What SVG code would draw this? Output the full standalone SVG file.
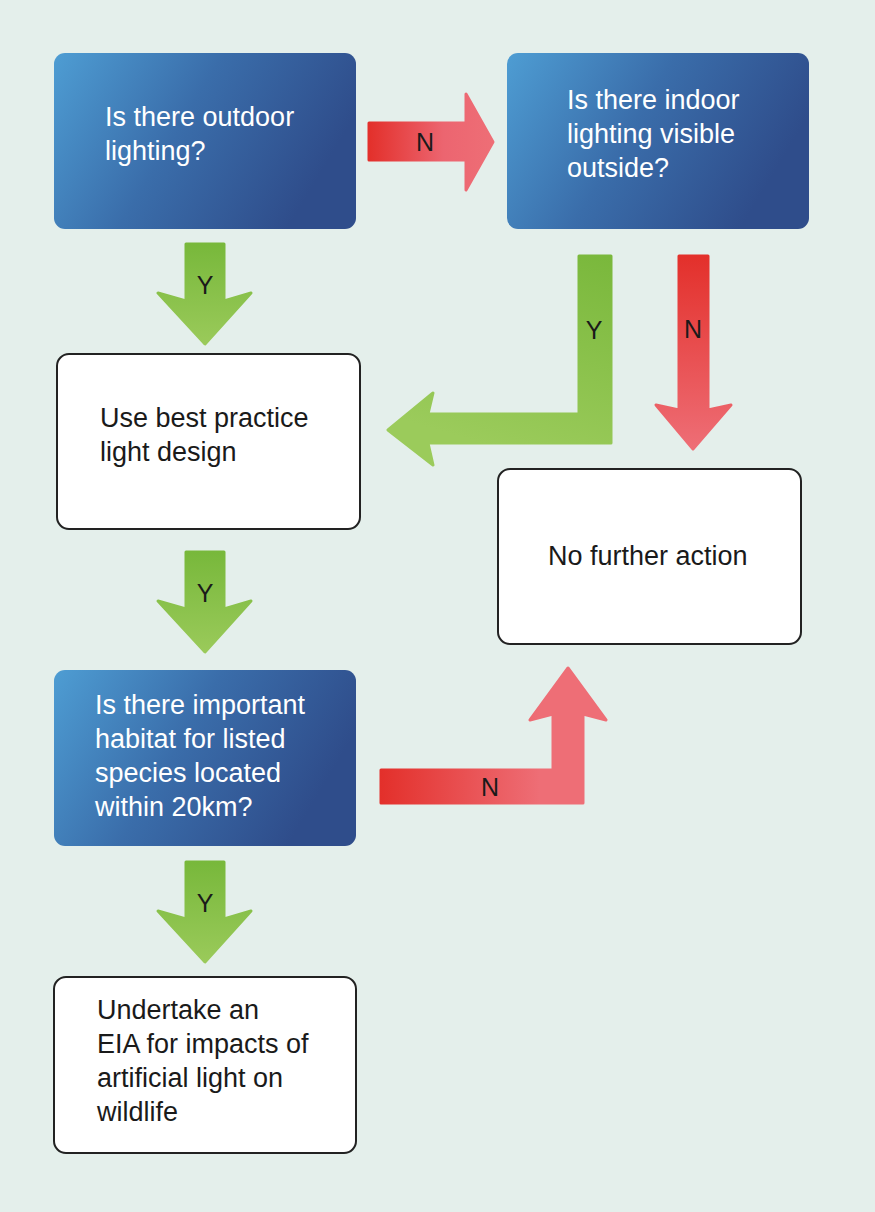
<svg xmlns="http://www.w3.org/2000/svg" width="875" height="1212" viewBox="0 0 875 1212">
<defs>
<linearGradient id="blue" x1="0" y1="0" x2="1" y2="0.35">
<stop offset="0" stop-color="#4E9DD3"/>
<stop offset="0.5" stop-color="#3A6DAA"/>
<stop offset="1" stop-color="#2F4D8B"/>
</linearGradient>
<linearGradient id="gdown" x1="0" y1="0" x2="0" y2="1">
<stop offset="0" stop-color="#78B83B"/>
<stop offset="1" stop-color="#9ACA5A"/>
</linearGradient>
<linearGradient id="gL" gradientUnits="userSpaceOnUse" x1="600" y1="255" x2="540" y2="460">
<stop offset="0" stop-color="#7AB83C"/>
<stop offset="1" stop-color="#9BCB5B"/>
</linearGradient>
<linearGradient id="rright" x1="0" y1="0" x2="1" y2="0">
<stop offset="0" stop-color="#E3302B"/>
<stop offset="0.6" stop-color="#EC6570"/>
<stop offset="1" stop-color="#EE6E76"/>
</linearGradient>
<linearGradient id="rdown" x1="0" y1="0" x2="0" y2="1">
<stop offset="0" stop-color="#E3302B"/>
<stop offset="1" stop-color="#EE6E76"/>
</linearGradient>
<linearGradient id="rL" gradientUnits="userSpaceOnUse" x1="381" y1="0" x2="540" y2="0">
<stop offset="0" stop-color="#E3302B"/>
<stop offset="1" stop-color="#EE6E76"/>
</linearGradient>
</defs>
<style>
.q{fill:url(#blue);}
.a{fill:#ffffff;stroke:#222222;stroke-width:2;}
.qt{font-family:"Liberation Sans",Arial,sans-serif;font-size:27px;fill:#ffffff;}
.at{font-family:"Liberation Sans",Arial,sans-serif;font-size:27px;fill:#1a1a1a;}
.lbl{font-family:"Liberation Sans",Arial,sans-serif;font-size:25px;fill:#1a1a1a;text-anchor:middle;}
.arr{stroke-linejoin:round;stroke-width:3;}
</style>
<rect x="0" y="0" width="875" height="1212" fill="#E4EFEB"/>

<g id="connectors">
<g id="c1">
<path class="arr" d="M369,123 H466 V94 L493,142 L466,190 V160 H369 Z" fill="url(#rright)" stroke="url(#rright)"/>
<text class="lbl" x="425" y="151">N</text>
</g>
<g id="c2">
<path class="arr" d="M186,244 H224 V301 L251,293 L205,344 L158,293 L186,301 Z" fill="url(#gdown)" stroke="url(#gdown)"/>
<text class="lbl" x="205" y="294">Y</text>
</g>
<g id="c3">
<path class="arr" d="M611,256 V443 H428 L433,465 L388,430 L433,393 L428,414 H579 V256 Z" fill="url(#gL)" stroke="url(#gL)"/>
<text class="lbl" x="594" y="339">Y</text>
</g>
<g id="c4">
<path class="arr" d="M679,256 H708 V410 L731,405 L693,449 L656,405 L679,410 Z" fill="url(#rdown)" stroke="url(#rdown)"/>
<text class="lbl" x="693" y="338">N</text>
</g>
<g id="c5">
<path class="arr" d="M186,552 H224 V609 L251,601 L205,652 L158,601 L186,609 Z" fill="url(#gdown)" stroke="url(#gdown)"/>
<text class="lbl" x="205" y="602">Y</text>
</g>
<g id="c6">
<path class="arr" d="M381,770 H553 V714 L530,720 L568,668 L606,720 L583,714 V803 H381 Z" fill="url(#rL)" stroke="url(#rL)"/>
<text class="lbl" x="490" y="796">N</text>
</g>
<g id="c7">
<path class="arr" d="M186,862 H224 V919 L251,911 L205,962 L158,911 L186,919 Z" fill="url(#gdown)" stroke="url(#gdown)"/>
<text class="lbl" x="205" y="912">Y</text>
</g>
</g>

<g id="n1">
<rect class="q" x="54" y="53" width="302" height="176" rx="11"/>
<text class="qt" x="105" y="126">Is there outdoor</text>
<text class="qt" x="105" y="160">lighting?</text>
</g>
<g id="n2">
<rect class="q" x="507" y="53" width="302" height="176" rx="11"/>
<text class="qt" x="567" y="109">Is there indoor</text>
<text class="qt" x="567" y="143">lighting visible</text>
<text class="qt" x="567" y="177">outside?</text>
</g>
<g id="n3">
<rect class="a" x="57" y="354" width="303" height="175" rx="12"/>
<text class="at" x="100" y="427">Use best practice</text>
<text class="at" x="100" y="461">light design</text>
</g>
<g id="n4">
<rect class="a" x="498" y="469" width="303" height="175" rx="12"/>
<text class="at" x="548" y="565">No further action</text>
</g>
<g id="n5">
<rect class="q" x="54" y="670" width="302" height="176" rx="11"/>
<text class="qt" x="95" y="714">Is there important</text>
<text class="qt" x="95" y="748">habitat for listed</text>
<text class="qt" x="95" y="782">species located</text>
<text class="qt" x="95" y="816">within 20km?</text>
</g>
<g id="n6">
<rect class="a" x="54" y="977" width="302" height="176" rx="12"/>
<text class="at" x="97" y="1019">Undertake an</text>
<text class="at" x="97" y="1053">EIA for impacts of</text>
<text class="at" x="97" y="1087">artificial light on</text>
<text class="at" x="97" y="1121">wildlife</text>
</g>
</svg>
